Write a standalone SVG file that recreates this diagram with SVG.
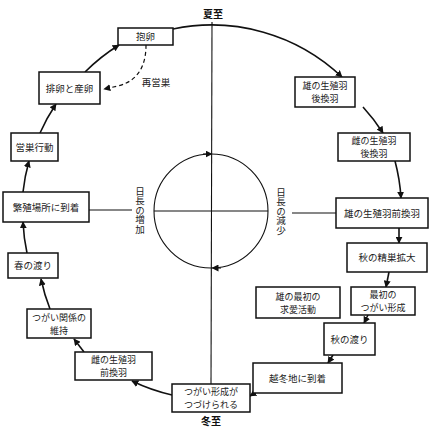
<svg xmlns="http://www.w3.org/2000/svg" width="430" height="428" viewBox="0 0 430 428">
<style>
.box{fill:#fff;stroke:#111;stroke-width:1.5}
.t{font-family:"Noto Sans CJK JP","Noto Sans",sans-serif;font-size:9.5px;fill:#222;text-anchor:middle}
.t2{font-family:"Noto Sans CJK JP","Noto Sans",sans-serif;font-size:9px;fill:#222;text-anchor:middle}
.s{font-family:"Noto Sans CJK JP","Noto Sans",sans-serif;font-size:10px;font-weight:bold;fill:#111;text-anchor:middle}
.v{font-family:"Noto Sans CJK JP","Noto Sans",sans-serif;font-size:9.5px;fill:#222;writing-mode:vertical-rl;text-anchor:middle}
.c{fill:none;stroke:#111;stroke-width:1.6}
.ax{fill:none;stroke:#111;stroke-width:1.1}
.d{fill:none;stroke:#111;stroke-width:1.2;stroke-dasharray:4 3}
</style>
<defs>
<marker id="ah" viewBox="0 0 10 10" refX="9" refY="5" markerWidth="7" markerHeight="7" markerUnits="userSpaceOnUse" orient="auto">
<path d="M0,0 L10,5 L0,10 z" fill="#111"/>
</marker>
<marker id="ah2" viewBox="0 0 10 10" refX="5" refY="5" markerWidth="7" markerHeight="7" markerUnits="userSpaceOnUse" orient="auto">
<path d="M0,0 L10,5 L0,10 z" fill="#111"/>
</marker>
</defs>
<g id="axes">
<line class="ax" x1="212" y1="22" x2="211" y2="384"/>
<line class="ax" x1="89" y1="210" x2="132" y2="210"/>
<line class="ax" x1="154" y1="211" x2="268" y2="211"/>
<line class="ax" x1="292" y1="213" x2="336" y2="213"/>
<circle class="ax" cx="211" cy="211" r="57" stroke-width="1.3"/>
<path d="M203,154 L209,154" class="ax" marker-end="url(#ah2)"/>
<path d="M221,268 L215,268" class="ax" marker-end="url(#ah2)"/>
</g>
<g id="labels">
<text class="s" x="213" y="18">夏至</text>
<text class="s" x="211" y="425">冬至</text>
<text class="v" x="140" y="210">日長の増加</text>
<text class="v" x="281" y="211">日長の減少</text>
<text class="t" x="156" y="86">再営巣</text>
</g>
<g id="connectors">
<path class="c" d="M173,29 A189,189 0 0 1 342,77" marker-end="url(#ah)"/>
<path class="c" d="M363,107 A189,189 0 0 1 383,133" marker-end="url(#ah)"/>
<path class="c" d="M395,161 A189,189 0 0 1 401,198" marker-end="url(#ah)"/>
<path class="c" d="M399,228 L399,243" marker-end="url(#ah)"/>
<path class="c" d="M389,272 L386,287" marker-end="url(#ah)"/>
<path class="c" d="M368,315 L364,323" marker-end="url(#ah)"/>
<path class="c" d="M333,355 L328,363" marker-end="url(#ah)"/>
<path class="c" d="M258,391 L250,396" marker-end="url(#ah)"/>
<path class="c" d="M172,395 A187,187 0 0 1 132,381" marker-end="url(#ah)"/>
<path class="c" d="M84,352 L74,339" marker-end="url(#ah)"/>
<path class="c" d="M50,309 A188,188 0 0 1 41,279" marker-end="url(#ah)"/>
<path class="c" d="M27,253 A189,189 0 0 1 23,222" marker-end="url(#ah)"/>
<path class="c" d="M23,192 A190,190 0 0 1 29,161" marker-end="url(#ah)"/>
<path class="c" d="M40,133 A191,191 0 0 1 56,104" marker-end="url(#ah)"/>
<path class="c" d="M85,72 A192,192 0 0 1 119,45" marker-end="url(#ah)"/>
<path class="d" d="M146,45 C146,60 142,80 118,86 L104,89" marker-end="url(#ah)"/>
</g>
<g id="n1"><rect class="box" x="118" y="28" width="55" height="17"/><text class="t" x="145.5" y="40">抱卵</text></g>
<g id="n2"><rect class="box" x="39" y="72" width="61" height="32"/><text class="t" x="69.5" y="91.5">排卵と産卵</text></g>
<g id="n3"><rect class="box" x="11" y="133" width="47" height="28"/><text class="t" x="34.5" y="150.5">営巣行動</text></g>
<g id="n4"><rect class="box" x="3" y="192" width="86" height="30"/><text class="t" x="46" y="210.5">繁殖場所に到着</text></g>
<g id="n5"><rect class="box" x="8" y="253" width="50" height="25"/><text class="t" x="33" y="269">春の渡り</text></g>
<g id="n6"><rect class="box" x="27" y="309" width="64" height="29"/><text class="t2" x="59" y="320.5">つがい関係の<tspan x="59" dy="13">維持</tspan></text></g>
<g id="n7"><rect class="box" x="75" y="352" width="77" height="28"/><text class="t2" x="113.5" y="363">雌の生殖羽<tspan x="113.5" dy="13">前換羽</tspan></text></g>
<g id="n8"><rect class="box" x="172" y="384" width="78" height="28"/><text class="t2" x="211" y="395">つがい形成が<tspan x="211" dy="13">つづけられる</tspan></text></g>
<g id="n9"><rect class="box" x="253" y="363" width="89" height="30"/><text class="t" x="297.5" y="381.5">越冬地に到着</text></g>
<g id="n10"><rect class="box" x="324" y="323" width="51" height="32"/><text class="t" x="349.5" y="342.5">秋の渡り</text></g>
<g id="n11"><rect class="box" x="256" y="287" width="84" height="31"/><text class="t2" x="298" y="299.5">雄の最初の<tspan x="298" dy="13">求愛活動</tspan></text></g>
<g id="n12"><rect class="box" x="351" y="287" width="64" height="28"/><text class="t2" x="383" y="298">最初の<tspan x="383" dy="13">つがい形成</tspan></text></g>
<g id="n13"><rect class="box" x="347" y="243" width="80" height="29"/><text class="t" x="387" y="261">秋の精巣拡大</text></g>
<g id="n14"><rect class="box" x="336" y="198" width="92" height="30"/><text class="t" x="382" y="216.5">雄の生殖羽前換羽</text></g>
<g id="n15"><rect class="box" x="338" y="133" width="72" height="28"/><text class="t2" x="374" y="144">雌の生殖羽<tspan x="374" dy="13">後換羽</tspan></text></g>
<g id="n16"><rect class="box" x="295" y="77" width="60" height="30"/><text class="t2" x="325" y="89">雄の生殖羽<tspan x="325" dy="13">後換羽</tspan></text></g>
</svg>
